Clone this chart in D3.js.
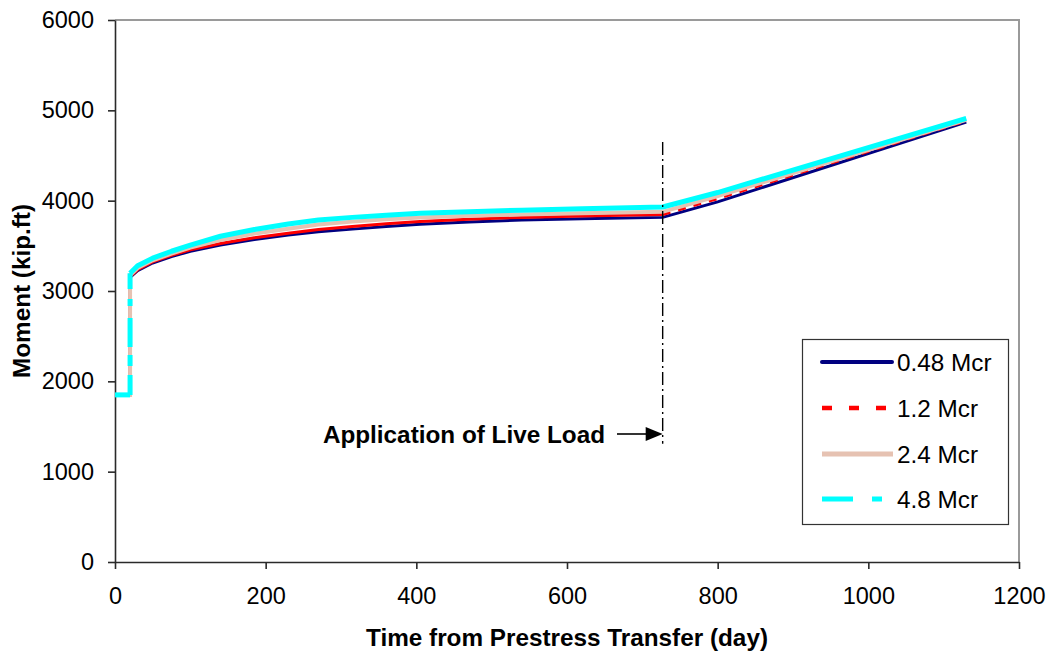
<!DOCTYPE html>
<html><head><meta charset="utf-8">
<script src="https://cdn.jsdelivr.net/npm/d3@7"></script>
<style>body{margin:0;background:#fff;}svg{display:block;font-family:"Liberation Sans",Arial,sans-serif;}</style>
</head><body><svg id="c" width="1048" height="653"></svg>
<script>
const days = [0, 20, 20, 30, 50, 75, 100, 140, 185, 230, 270, 315, 360, 405, 470, 540, 620, 727, 800, 1130];
const m048 = [1850, 1850, 3150, 3225, 3310, 3380, 3440, 3510, 3570, 3620, 3655, 3685, 3715, 3740, 3765, 3785, 3800, 3815, 3986, 4870];
const m12  = [1850, 1850, 3160, 3235, 3322, 3395, 3455, 3525, 3590, 3640, 3680, 3715, 3745, 3770, 3795, 3815, 3830, 3846, 4023, 4885];
const m24  = [1850, 1850, 3175, 3255, 3340, 3415, 3480, 3565, 3635, 3690, 3735, 3768, 3795, 3815, 3832, 3846, 3860, 3876, 4050, 4895];
const m48  = [1850, 1850, 3197, 3280, 3363, 3440, 3507, 3606, 3680, 3742, 3785, 3815, 3838, 3860, 3878, 3895, 3910, 3930, 4090, 4910];
const seriesNames = ["0.48 Mcr", "1.2 Mcr", "2.4 Mcr", "4.8 Mcr"];
const xTicks = [0, 200, 400, 600, 800, 1000, 1200];
const yTicks = [0, 1000, 2000, 3000, 4000, 5000, 6000];
const liveLoadDay = 727;

const svg = d3.select("#c");
const L = 115, R = 1019, T = 20, B = 562;
const x = d3.scaleLinear().domain([0, 1200]).range([L, R]);
const y = d3.scaleLinear().domain([0, 6000]).range([B, T]);
const FONT = "'Liberation Sans',Arial,sans-serif";

// frame top/right
svg.append("line").attr("x1", L).attr("x2", R + 1).attr("y1", T).attr("y2", T).attr("stroke", "#9a9a9a").attr("stroke-width", 2);
svg.append("line").attr("x1", R).attr("x2", R).attr("y1", T).attr("y2", B).attr("stroke", "#9a9a9a").attr("stroke-width", 2);

const xa = svg.append("g").attr("transform", `translate(0,${B})`)
  .call(d3.axisBottom(x).tickValues(xTicks).tickFormat(d3.format("d")).tickSize(7).tickSizeOuter(0).tickPadding(18));
const ya = svg.append("g").attr("transform", `translate(${L},0)`)
  .call(d3.axisLeft(y).tickValues(yTicks).tickFormat(d3.format("d")).tickSize(7).tickSizeOuter(0).tickPadding(14));
[xa, ya].forEach(a => {
  a.selectAll("path,line").attr("stroke", "#2a2a2a").attr("stroke-width", 1.6);
  a.selectAll("text").attr("font-size", 23.5).attr("fill", "#000").attr("font-family", FONT);
});

const styles = [
  {vals: m048, color: "#000080", w: 3},
  {vals: m12, color: "#ff0000", w: 3},
  {vals: m24, color: "#e6c2b2", w: 4},
  {vals: m48, color: "#00ffff", w: 5}
];
const iLL = days.indexOf(liveLoadDay);
const lineGen = d3.line().x(d => x(d[0])).y(d => y(d[1]));
styles.forEach((s, k) => {
  const pts = days.map((d, i) => [d, s.vals[i]]);
  if (k === 3) {
    svg.append("path").datum(pts.slice(0, 2)).attr("d", lineGen).attr("fill", "none")
      .attr("stroke", s.color).attr("stroke-width", s.w);
    svg.append("path").datum(pts.slice(1, 3)).attr("d", lineGen).attr("fill", "none")
      .attr("stroke", s.color).attr("stroke-width", s.w).attr("stroke-dasharray", "20,9,11,8,29,12,7,10,30");
    svg.append("path").datum(pts.slice(2)).attr("d", lineGen).attr("fill", "none")
      .attr("stroke", s.color).attr("stroke-width", s.w).attr("stroke-linejoin", "round");
  } else if (k === 1) {
    svg.append("path").datum(pts.slice(0, iLL + 1)).attr("d", lineGen).attr("fill", "none")
      .attr("stroke", s.color).attr("stroke-width", s.w);
    svg.append("path").datum(pts.slice(iLL)).attr("d", lineGen).attr("fill", "none")
      .attr("stroke", s.color).attr("stroke-width", s.w).attr("stroke-dasharray", "8,8");
  } else {
    svg.append("path").datum(pts).attr("d", lineGen).attr("fill", "none")
      .attr("stroke", s.color).attr("stroke-width", s.w);
  }
});

// live load line
const xl = x(liveLoadDay);
svg.append("line").attr("x1", xl).attr("x2", xl)
  .attr("y1", y(4650)).attr("y2", y(1310)).attr("stroke", "#000").attr("stroke-width", 1.4)
  .attr("stroke-dasharray", "13,4,2,4");
const ay = 434;
svg.append("line").attr("x1", 617).attr("x2", xl - 14).attr("y1", ay).attr("y2", ay).attr("stroke", "#000").attr("stroke-width", 1.6);
svg.append("path").attr("d", `M${xl - 17},${ay - 7}L${xl},${ay}L${xl - 17},${ay + 7}Z`).attr("fill", "#000");
svg.append("text").attr("x", 605).attr("y", 443).attr("text-anchor", "end")
  .attr("font-size", 24.3).attr("font-weight", "bold").text("Application of Live Load");

// axis titles
svg.append("text").attr("x", 567).attr("y", 646).attr("text-anchor", "middle")
  .attr("font-size", 24.3).attr("font-weight", "bold").text("Time from Prestress Transfer (day)");
svg.append("text").attr("transform", "translate(30,291) rotate(-90)").attr("text-anchor", "middle")
  .attr("font-size", 24.3).attr("font-weight", "bold").text("Moment (kip.ft)");

// legend
const lg = svg.append("g");
lg.append("rect").attr("x", 802.5).attr("y", 339.5).attr("width", 206).attr("height", 185)
  .attr("fill", "#fff").attr("stroke", "#333").attr("stroke-width", 1.2);
const rowsY = [362, 408, 454, 499];
const legDash = [null, "10,17", null, "31,19"];
const legW = [4, 4.5, 5, 5];
styles.forEach((s, i) => {
  lg.append("line").attr("x1", 822).attr("x2", i === 0 ? 892 : (i === 3 ? 882 : 893)).attr("y1", rowsY[i]).attr("y2", rowsY[i])
    .attr("stroke", s.color).attr("stroke-width", legW[i])
    .attr("stroke-linecap", i === 0 ? "round" : "butt")
    .attr("stroke-dasharray", legDash[i]);
  lg.append("text").attr("x", 897).attr("y", rowsY[i] + 8.5).attr("font-size", 24.3).attr("font-family", FONT).text(seriesNames[i]);
});
</script></body></html>
